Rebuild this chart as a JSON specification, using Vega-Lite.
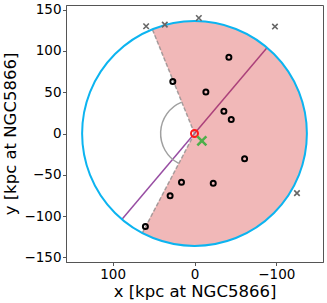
{
  "$schema": "https://vega.github.io/schema/vega-lite/v6.json",
  "width": 257,
  "height": 257,
  "autosize": {"type": "none"},
  "padding": {"left": 66, "top": 5, "right": 4, "bottom": 41},
  "background": "white",
  "config": {
    "font": "DejaVu Sans",
    "view": {"stroke": "#555", "strokeWidth": 1},
    "axis": {
      "grid": false,
      "labelFont": "DejaVu Sans",
      "labelFontSize": 13.5,
      "labelColor": "black",
      "titleFont": "DejaVu Sans",
      "titleFontSize": 16.5,
      "titleFontWeight": "normal",
      "titleColor": "black",
      "tickColor": "#555",
      "tickSize": 3.5,
      "labelPadding": 1.5,
      "domainColor": "#555"
    }
  },
  "datasets": {
    "satellites": [
      {"x": -42.0, "y": 92.3},
      {"x": 26.5, "y": 62.9},
      {"x": -13.9, "y": 50.3},
      {"x": -35.9, "y": 27.0},
      {"x": -44.9, "y": 16.9},
      {"x": -61.2, "y": -30.7},
      {"x": 15.9, "y": -58.9},
      {"x": -22.9, "y": -60.1},
      {"x": 29.8, "y": -75.4},
      {"x": 60.0, "y": -112.5}
    ],
    "outside": [
      {"x": 59.1, "y": 129.8},
      {"x": 36.3, "y": 131.8},
      {"x": -5.3, "y": 139.8},
      {"x": -98.3, "y": 129.4},
      {"x": -125.2, "y": -72.2}
    ],
    "host": [{"x": 0, "y": 0}],
    "centroid": [{"x": -9.0, "y": -8.9}],
    "axisline": [{"x": -88.3, "y": 103.4, "x2": 88.3, "y2": -103.4}],
    "edges": [
      {"x": 0, "y": 0, "x2": 51.4, "y2": 125.9},
      {"x": 0, "y": 0, "x2": 63.6, "y2": -120.2}
    ],
    "wedge": [{"a1": 67.8, "a2": 297.9, "r": 136, "r0": 0}],
    "circle": [{"a1": 0, "a2": 360, "r": 136, "r0": 136}],
    "anglearc": [{"a1": 297.9, "a2": 427.8, "r": 41, "r0": 41}]
  },
  "layer": [
    {
      "data": {"name": "axisline"},
      "mark": {"type": "rule", "color": "#984ea3", "strokeWidth": 1.5},
      "encoding": {
        "x": {
          "field": "x", "type": "quantitative",
          "scale": {"domain": [-157, 157], "reverse": true, "nice": false, "zero": false},
          "axis": {"values": [-100, 0, 100], "title": "x [kpc at NGC5866]", "titlePadding": 3}
        },
        "y": {
          "field": "y", "type": "quantitative",
          "scale": {"domain": [-155.5, 155.5], "nice": false, "zero": false},
          "axis": {"values": [-150, -100, -50, 0, 50, 100, 150], "title": "y [kpc at NGC5866]", "titlePadding": 5}
        },
        "x2": {"field": "x2"},
        "y2": {"field": "y2"}
      }
    },
    {
      "data": {"name": "wedge"},
      "mark": {"type": "arc", "color": "#d62728", "opacity": 0.33},
      "encoding": {
        "theta": {"field": "a1", "type": "quantitative", "stack": null, "scale": {"type": "linear", "domain": [90, 450], "range": [0, 6.283185307179586]}},
        "theta2": {"field": "a2"},
        "radius": {"field": "r", "type": "quantitative", "scale": {"type": "linear", "zero": true, "domain": [0, 155.5], "range": [0, 128.5]}},
        "radius2": {"field": "r0"}
      }
    },
    {
      "data": {"name": "edges"},
      "mark": {"type": "rule", "color": "#8c8c8c", "strokeWidth": 1.5, "strokeDash": [4, 2], "opacity": 0.75},
      "encoding": {
        "x": {"field": "x", "type": "quantitative"},
        "y": {"field": "y", "type": "quantitative"},
        "x2": {"field": "x2"},
        "y2": {"field": "y2"}
      }
    },
    {
      "data": {"name": "circle"},
      "mark": {"type": "arc", "filled": false, "color": "#0cb4f0", "strokeWidth": 2},
      "encoding": {
        "theta": {"field": "a1", "type": "quantitative", "stack": null},
        "theta2": {"field": "a2"},
        "radius": {"field": "r", "type": "quantitative"},
        "radius2": {"field": "r0"}
      }
    },
    {
      "data": {"name": "anglearc"},
      "mark": {"type": "arc", "filled": false, "color": "#a0a0a0", "strokeWidth": 1.5},
      "encoding": {
        "theta": {"field": "a1", "type": "quantitative", "stack": null},
        "theta2": {"field": "a2"},
        "radius": {"field": "r", "type": "quantitative"},
        "radius2": {"field": "r0"}
      }
    },
    {
      "data": {"name": "satellites"},
      "mark": {"type": "point", "shape": "circle", "filled": false, "color": "black", "size": 25, "strokeWidth": 2, "opacity": 1},
      "encoding": {
        "x": {"field": "x", "type": "quantitative"},
        "y": {"field": "y", "type": "quantitative"}
      }
    },
    {
      "data": {"name": "outside"},
      "mark": {"type": "point", "shape": "M-1,-1L1,1M-1,1L1,-1", "filled": false, "color": "#666666", "size": 30, "strokeWidth": 1.6, "opacity": 1},
      "encoding": {
        "x": {"field": "x", "type": "quantitative"},
        "y": {"field": "y", "type": "quantitative"}
      }
    },
    {
      "data": {"name": "host"},
      "mark": {"type": "point", "shape": "circle", "filled": false, "color": "#ff1a1a", "size": 49, "strokeWidth": 2, "opacity": 1},
      "encoding": {
        "x": {"field": "x", "type": "quantitative"},
        "y": {"field": "y", "type": "quantitative"}
      }
    },
    {
      "data": {"name": "centroid"},
      "mark": {"type": "point", "shape": "M-1,-1L1,1M-1,1L1,-1", "filled": false, "color": "#4daf4a", "size": 81, "strokeWidth": 2.5, "opacity": 1},
      "encoding": {
        "x": {"field": "x", "type": "quantitative"},
        "y": {"field": "y", "type": "quantitative"}
      }
    }
  ]
}
